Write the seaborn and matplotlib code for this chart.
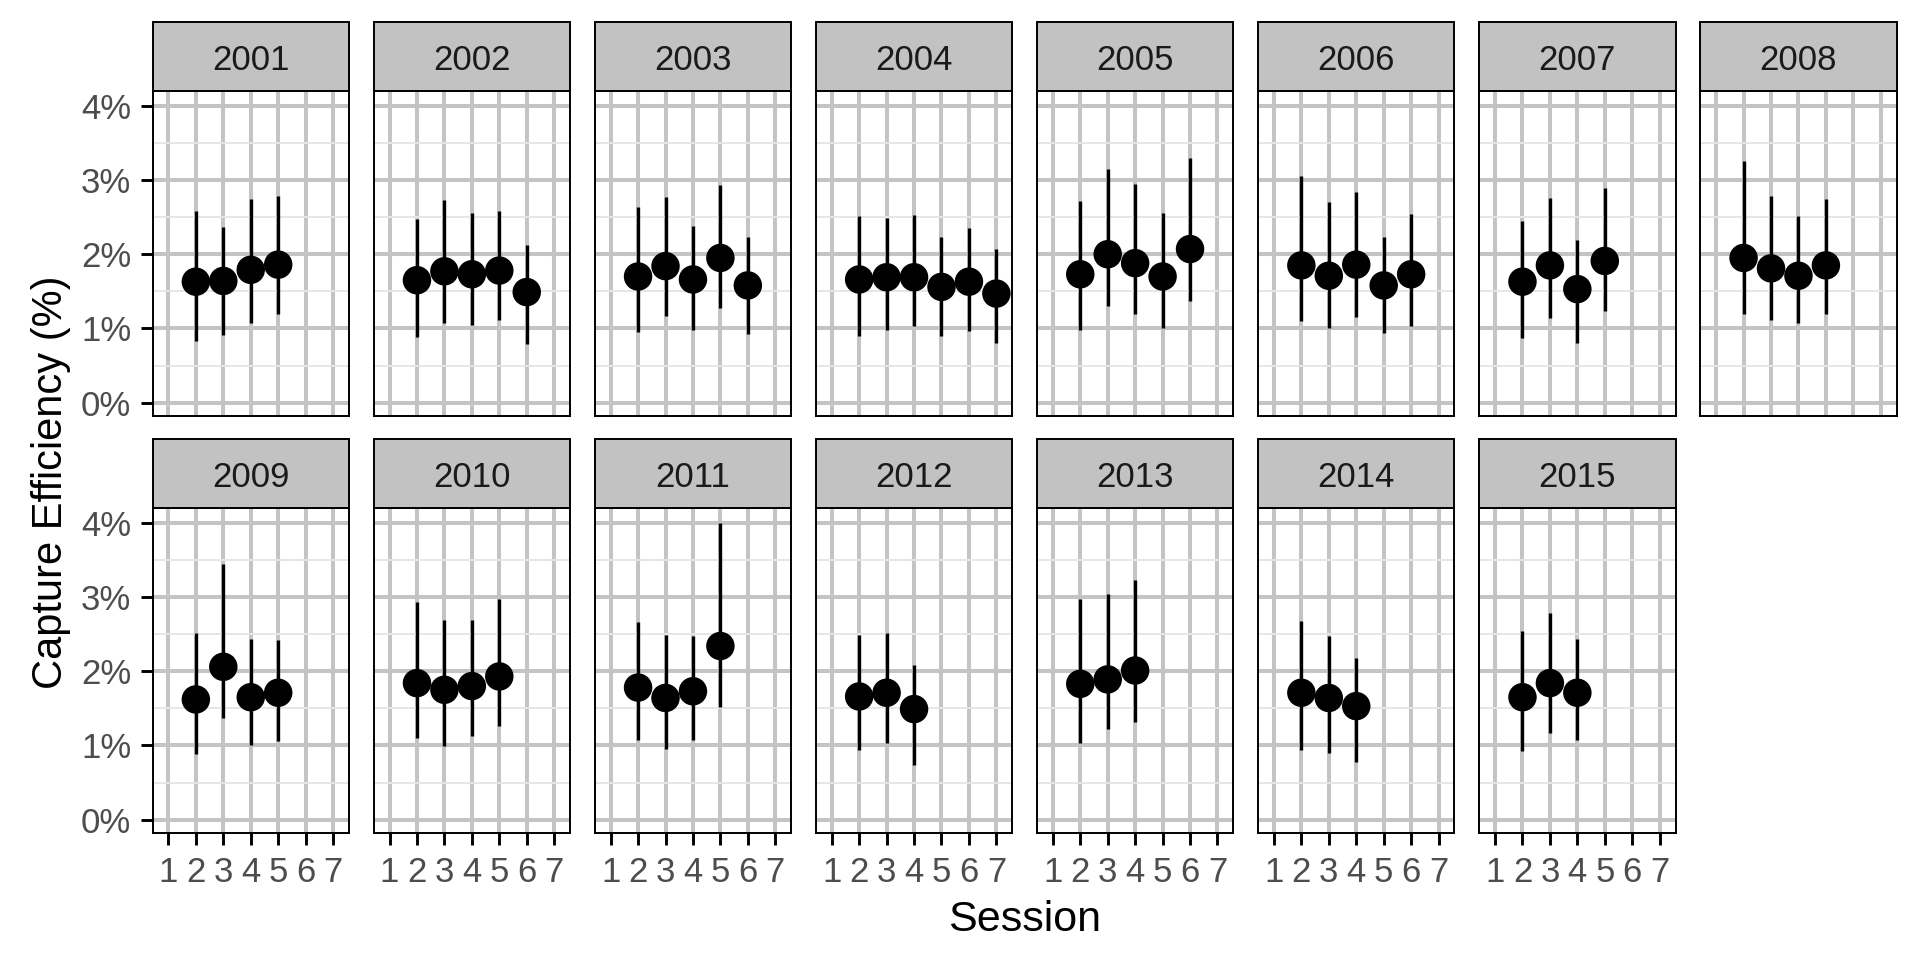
import numpy as np
import pandas as pd
import matplotlib
matplotlib.use("Agg")
import matplotlib.pyplot as plt
import seaborn as sns
from matplotlib.patches import Rectangle

# ---------------- data ----------------
years = [2001, 2002, 2003, 2004, 2005, 2006, 2007, 2008,
         2009, 2010, 2011, 2012, 2013, 2014, 2015]

year = ([2001] * 4 + [2002] * 5 + [2003] * 5 + [2004] * 6 + [2005] * 5 +
        [2006] * 5 + [2007] * 4 + [2008] * 4 + [2009] * 4 + [2010] * 4 +
        [2011] * 4 + [2012] * 3 + [2013] * 3 + [2014] * 3 + [2015] * 3)

session = ([2, 3, 4, 5] + [2, 3, 4, 5, 6] + [2, 3, 4, 5, 6] + [2, 3, 4, 5, 6, 7] +
           [2, 3, 4, 5, 6] + [2, 3, 4, 5, 6] + [2, 3, 4, 5] + [2, 3, 4, 5] +
           [2, 3, 4, 5] + [2, 3, 4, 5] + [2, 3, 4, 5] + [2, 3, 4] + [2, 3, 4] +
           [2, 3, 4] + [2, 3, 4])

estimate = ([1.63, 1.64, 1.79, 1.86] +
            [1.65, 1.77, 1.73, 1.78, 1.49] +
            [1.70, 1.84, 1.66, 1.95, 1.58] +
            [1.66, 1.69, 1.69, 1.56, 1.63, 1.47] +
            [1.73, 2.00, 1.88, 1.70, 2.07] +
            [1.85, 1.71, 1.86, 1.58, 1.73] +
            [1.63, 1.85, 1.53, 1.91] +
            [1.95, 1.81, 1.71, 1.85] +
            [1.62, 2.06, 1.65, 1.71] +
            [1.84, 1.75, 1.80, 1.93] +
            [1.78, 1.64, 1.73, 2.34] +
            [1.66, 1.71, 1.49] +
            [1.83, 1.89, 2.01] +
            [1.71, 1.64, 1.53] +
            [1.65, 1.84, 1.71])

lower = ([0.83, 0.91, 1.07, 1.19] +
         [0.89, 1.07, 1.04, 1.11, 0.79] +
         [0.95, 1.17, 0.98, 1.27, 0.93] +
         [0.90, 0.98, 1.03, 0.90, 0.96, 0.80] +
         [0.98, 1.30, 1.20, 1.00, 1.37] +
         [1.10, 1.01, 1.16, 0.94, 1.03] +
         [0.87, 1.14, 0.80, 1.24] +
         [1.20, 1.12, 1.08, 1.19] +
         [0.89, 1.37, 1.00, 1.06] +
         [1.10, 0.99, 1.13, 1.26] +
         [1.07, 0.95, 1.08, 1.52] +
         [0.94, 1.03, 0.74] +
         [1.03, 1.22, 1.32] +
         [0.94, 0.90, 0.78] +
         [0.92, 1.17, 1.08])

upper = ([2.58, 2.37, 2.74, 2.78] +
         [2.47, 2.73, 2.55, 2.58, 2.13] +
         [2.64, 2.77, 2.38, 2.93, 2.23] +
         [2.52, 2.49, 2.53, 2.23, 2.35, 2.07] +
         [2.72, 3.15, 2.94, 2.56, 3.30] +
         [3.06, 2.71, 2.84, 2.23, 2.54] +
         [2.45, 2.76, 2.19, 2.89] +
         [3.26, 2.78, 2.52, 2.75] +
         [2.51, 3.45, 2.44, 2.42] +
         [2.93, 2.69, 2.69, 2.98] +
         [2.66, 2.49, 2.48, 4.00] +
         [2.49, 2.52, 2.08] +
         [2.98, 3.04, 3.23] +
         [2.68, 2.47, 2.18] +
         [2.54, 2.79, 2.44])

x_ticks = [1, 2, 3, 4, 5, 6, 7]
x_tick_labels = ["1", "2", "3", "4", "5", "6", "7"]
y_ticks = [0, 1, 2, 3, 4]
y_tick_labels = ["0%", "1%", "2%", "3%", "4%"]
y_minor = [0.5, 1.5, 2.5, 3.5]

df = pd.DataFrame({"year": year, "session": session, "estimate": estimate,
                   "lower": lower, "upper": upper})

# ---------------- style ----------------
sns.set_style("white")
plt.rcParams["font.family"] = ["Liberation Sans", "DejaVu Sans"]

W, H = 1920, 960
g = sns.FacetGrid(df, col="year", col_order=years, col_wrap=8,
                  sharex=True, sharey=True, height=3, aspect=0.6, despine=False)
g.figure.set_size_inches(W / 100, H / 100)
g.figure.set_dpi(100)


def draw(data, **kws):
    ax = plt.gca()
    ax.vlines(data["session"], data["lower"], data["upper"],
              color="black", lw=2.4, zorder=3)
    sns.scatterplot(data=data, x="session", y="estimate", color="black",
                    s=420, linewidth=0, edgecolor="none", ax=ax, zorder=4,
                    legend=False)


g.map_dataframe(draw)

col_left0 = 152.5
col_step = 221.1
panel_w = 196.5
panel_h = 325.0
row_bottoms = [416.0, 833.0]
strip_h = 69.0
strip_baseline = 70.0  # px below strip top row offset (row 0 reference)

for k, (yr, ax) in enumerate(zip(years, g.axes.flat)):
    r, c = divmod(k, 8)
    left = col_left0 + c * col_step
    bottom = row_bottoms[r]
    ax.set_position([left / W, 1 - bottom / H, panel_w / W, panel_h / H])

    ax.set_xlim(0.42, 7.58)
    ax.set_ylim(-0.18, 4.2)
    ax.set_xticks(x_ticks)
    ax.set_xticklabels(x_tick_labels)
    ax.set_yticks(y_ticks)
    ax.set_yticklabels(y_tick_labels)
    ax.set_yticks(y_minor, minor=True)
    ax.set_xlabel("")
    ax.set_ylabel("")
    ax.set_title("")
    ax.set_axisbelow(True)
    ax.grid(which="major", color="#C4C4C4", lw=2.9)
    ax.grid(which="minor", axis="y", color="#E6E6E6", lw=1.4)
    ax.tick_params(which="minor", length=0)
    for sp in ax.spines.values():
        sp.set_visible(True)
        sp.set_color("black")
        sp.set_linewidth(1.4)
        sp.set_zorder(5)

    show_y = (c == 0)
    show_x = (r == 1)
    ax.tick_params(axis="y", which="major", left=show_y, labelleft=show_y,
                   length=8.3, width=2.1, color="black", pad=7,
                   labelsize=25, labelcolor="#4D4D4D")
    ax.tick_params(axis="x", which="major", bottom=show_x, labelbottom=show_x,
                   length=8.3, width=2.1, color="black", pad=8,
                   labelsize=25, labelcolor="#4D4D4D")

    sh = strip_h / panel_h
    ax.add_patch(Rectangle((0, 1), 1, sh, transform=ax.transAxes,
                           facecolor="#C2C2C2", edgecolor="black", lw=1.4,
                           clip_on=False, zorder=6))
    base_y = (416.0 - strip_baseline) / panel_h
    ax.text(0.5, base_y, str(yr), transform=ax.transAxes,
            ha="center", va="baseline", fontsize=25, color="#1A1A1A",
            zorder=7, clip_on=False)

fig = g.figure
fig.text(51 / W, 1 - 482 / H, "Capture Efficiency (%)", rotation=90,
         ha="center", va="center", fontsize=30, color="black")
fig.text(1024.5 / W, 1 - 931 / H, "Session", ha="center", va="baseline",
         fontsize=31, color="black")

fig.savefig("out.png", dpi=100, facecolor="white")
